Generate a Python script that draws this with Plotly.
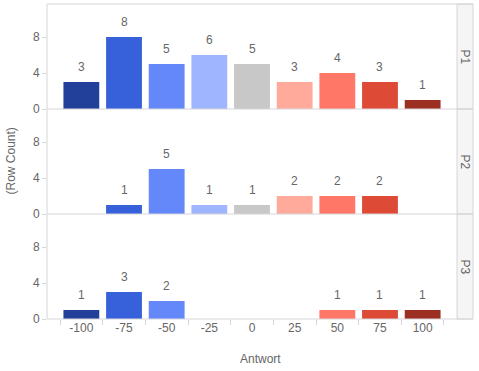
import plotly.graph_objects as go
from plotly.subplots import make_subplots

categories = ["-100", "-75", "-50", "-25", "0", "25", "50", "75", "100"]
panels = ["P1", "P2", "P3"]
p1_counts = [3, 8, 5, 6, 5, 3, 4, 3, 1]
p2_counts = [None, 1, 5, 1, 1, 2, 2, 2, None]
p3_counts = [1, 3, 2, None, None, None, 1, 1, 1]
y_ticks = [0, 4, 8]
x_title = "Antwort"
y_title = "(Row Count)"

bar_colors = ["#22409A", "#3761DB", "#6488FA", "#9FB5FF", "#C8C8C8",
              "#FFAA9A", "#FF7766", "#DD4B37", "#9B2F22"]

FONT = "Arial"
TXT = "#666666"
LINE = "#D6D6DA"

W, H = 479, 371
ml, mr, mt, mb = 47, 22, 4, 52
pw = W - ml - mr
ph = H - mt - mb

fig = make_subplots(rows=3, cols=1, shared_xaxes=True, vertical_spacing=0)

annotations = []
for i, vals in enumerate([p1_counts, p2_counts, p3_counts]):
    fig.add_trace(go.Bar(
        x=categories, y=vals,
        marker=dict(color=bar_colors, line=dict(width=0)),
        showlegend=False, hoverinfo="x+y",
    ), row=i + 1, col=1)
    suffix = "" if i == 0 else str(i + 1)
    for j, v in enumerate(vals):
        if v:
            annotations.append(dict(xref="x" + suffix, yref="y" + suffix, x=j, y=v,
                                    text=str(v), showarrow=False, yanchor="bottom",
                                    yshift=6, font=dict(color=TXT, size=12, family=FONT)))

for r in range(1, 4):
    fig.update_yaxes(range=[0, 11.67], tickvals=y_ticks, ticks="outside",
                     ticklen=4, tickcolor=LINE, showgrid=False, zeroline=False,
                     showline=False, tickfont=dict(color=TXT, size=12, family=FONT),
                     row=r, col=1)
    fig.update_xaxes(type="category", categoryorder="array", categoryarray=categories,
                     range=[-0.805, 8.805], showgrid=False, zeroline=False,
                     showline=False, row=r, col=1)

fig.update_xaxes(ticks="outside", tickson="boundaries", ticklen=5, tickcolor=LINE,
                 tickfont=dict(color=TXT, size=12, family=FONT), row=3, col=1)

strip_w = 16 / pw
shapes = []
bounds = [(2/3, 1), (1/3, 2/3), (0, 1/3)]
for (y0, y1) in bounds:
    shapes.append(dict(type="rect", xref="paper", yref="paper", x0=1, x1=1 + strip_w,
                       y0=y0, y1=y1, fillcolor="#F5F5F5", line=dict(color=LINE, width=1),
                       layer="below"))
for yy in [0, 1/3, 2/3, 1]:
    shapes.append(dict(type="line", xref="paper", yref="paper", x0=0, x1=1 + strip_w,
                       y0=yy, y1=yy, line=dict(color=LINE, width=1)))
shapes.append(dict(type="line", xref="paper", yref="paper", x0=0, x1=0, y0=0, y1=1,
                   line=dict(color=LINE, width=1)))

for (y0, y1), p in zip(bounds, panels):
    annotations.append(dict(xref="paper", yref="paper", x=1 + strip_w / 2, y=(y0 + y1) / 2,
                            text=p, textangle=90, showarrow=False,
                            font=dict(color=TXT, size=12, family=FONT),
                            xanchor="center", yanchor="middle"))
annotations.append(dict(xref="paper", yref="paper", x=(10 - ml) / pw, y=0.5,
                        text=y_title, textangle=-90, showarrow=False,
                        font=dict(color=TXT, size=12, family=FONT),
                        xanchor="center", yanchor="middle"))
annotations.append(dict(xref="paper", yref="paper", x=(260 - ml) / pw, y=-(359 - (H - mb)) / ph,
                        text=x_title, showarrow=False,
                        font=dict(color=TXT, size=12, family=FONT),
                        xanchor="center", yanchor="middle"))

fig.update_layout(
    width=W, height=H,
    margin=dict(l=ml, r=mr, t=mt, b=mb),
    plot_bgcolor="white", paper_bgcolor="white",
    bargap=0.16,
    shapes=shapes, annotations=annotations,
    font=dict(family=FONT, color=TXT, size=12),
)

fig.write_html("out.html", config={"displayModeBar": False},
               post_script="document.body.style.margin='0';document.body.style.padding='0';")
